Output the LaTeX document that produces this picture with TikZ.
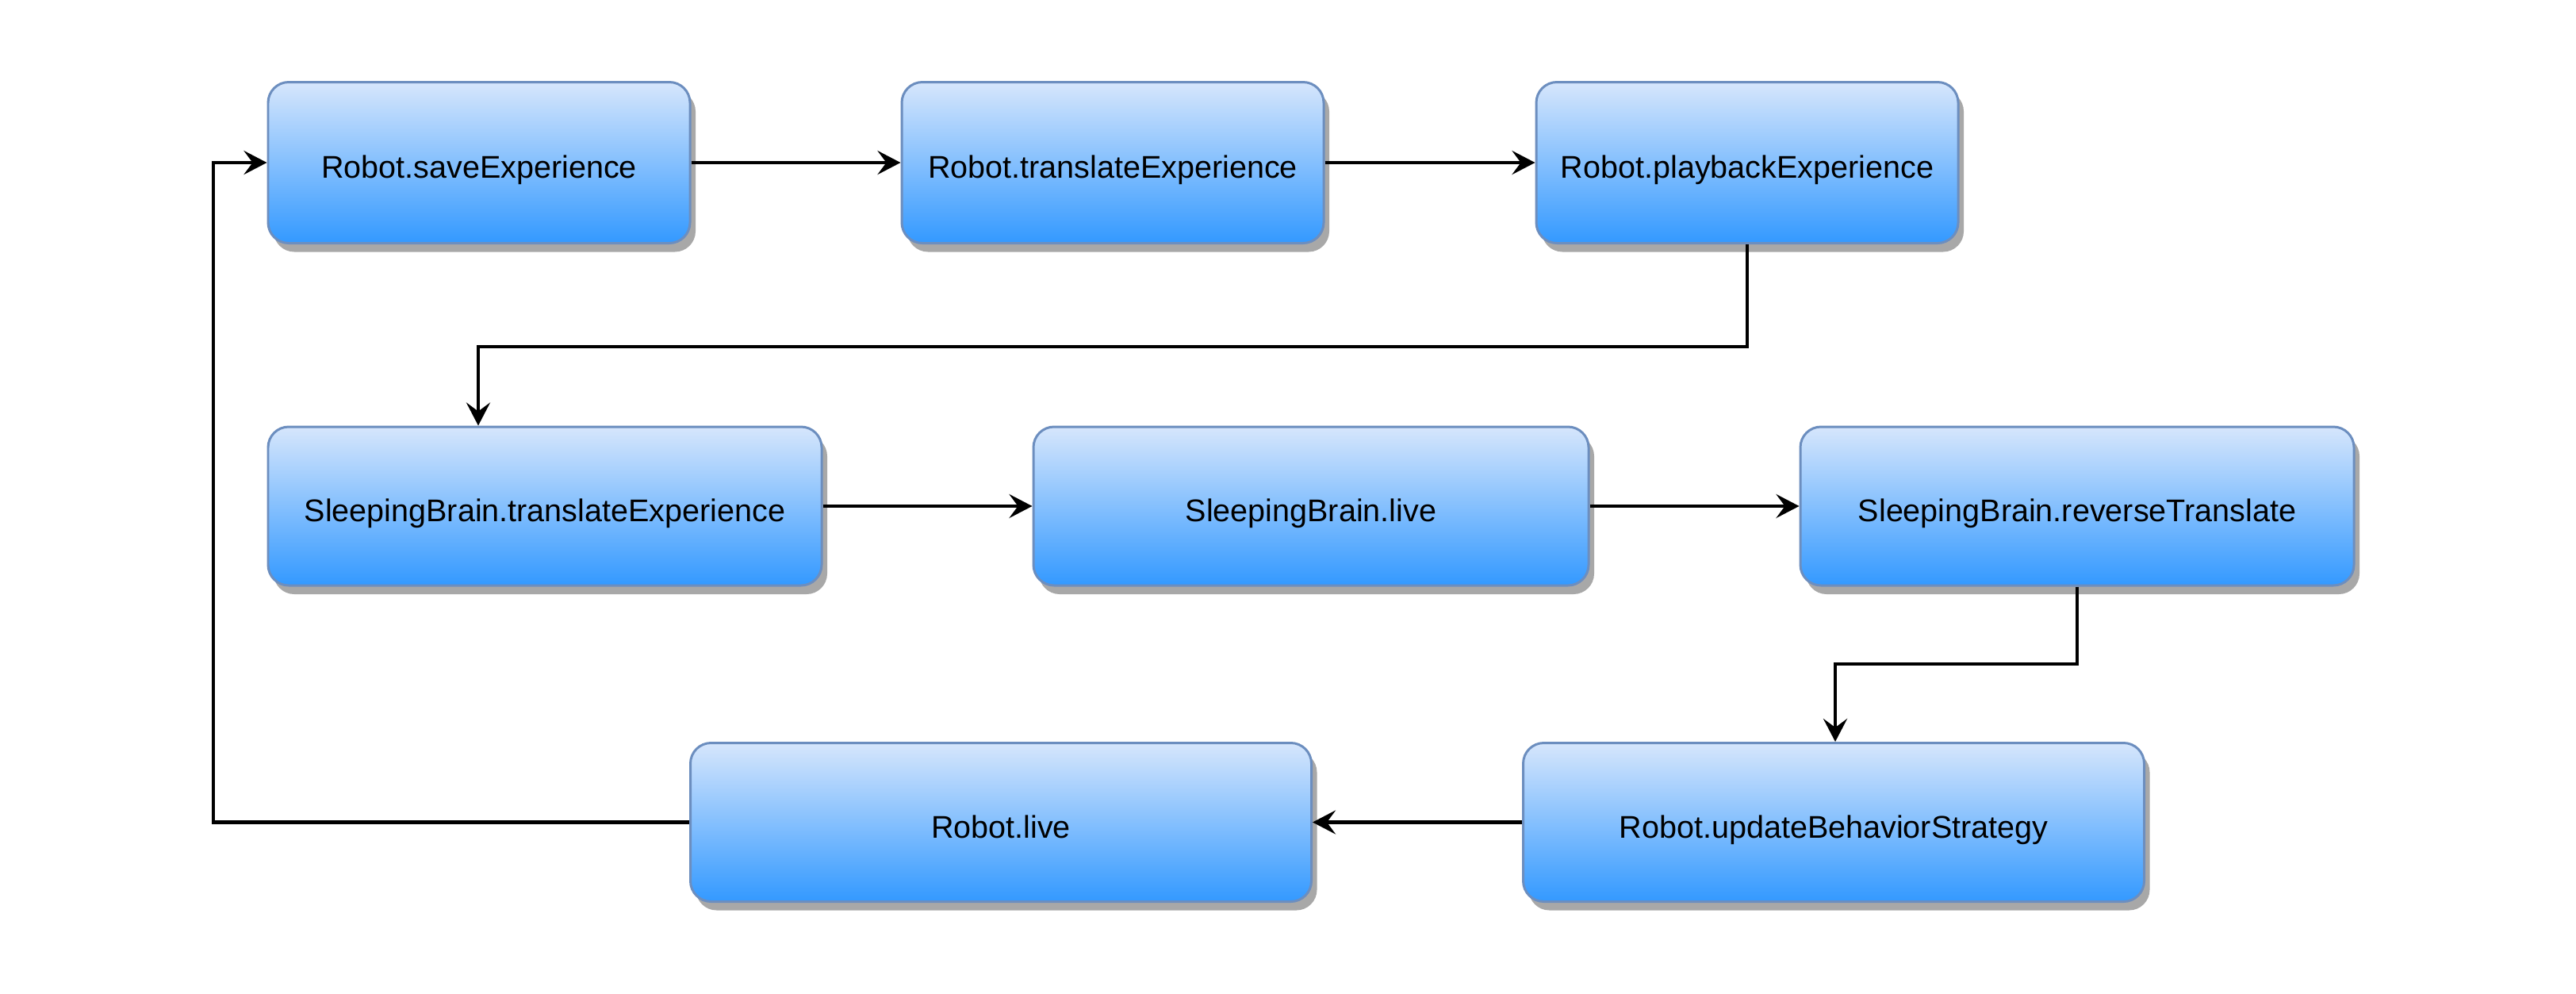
\documentclass[tikz,border=0pt]{standalone}
\usepackage{fontspec}
\setmainfont{Liberation Sans}
\usetikzlibrary{arrows.meta,shadows,calc}
\pgfdeclarelayer{bg}
\pgfsetlayers{bg,main}
\definecolor{boxtop}{HTML}{D6E6FC}
\definecolor{boxbot}{HTML}{3399FF}
\definecolor{boxline}{HTML}{6C8EBF}
\tikzset{
  stepbox/.style={draw=boxline, line width=0.85pt, rounded corners=0.26cm,
    top color=boxtop, bottom color=boxbot, minimum height=2.0cm,
    font=\fontsize{11.25pt}{13pt}\selectfont, text=black,
    text height=13.7pt, text depth=2.5pt,
    drop shadow={shadow xshift=0.07cm, shadow yshift=-0.11cm, fill=black!45, opacity=0.75}},
  arr/.style={draw=black, line width=1.25pt,
    -{Stealth[length=0.29cm, width=0.30cm, inset=0.11cm]}},
  arrshadow/.style={draw=black!5, line width=6pt,
    transform canvas={xshift=0.07cm, yshift=-0.09cm}},
}
\begin{document}
\begin{tikzpicture}
\useasboundingbox[fill=white] (0,0) rectangle (32.48,-12.52);
% row 1
\node[stepbox, minimum width=5.32cm, minimum height=2.03cm] (b1) at (6.04,-2.05) {Robot.saveExperience};
\node[stepbox, minimum width=5.32cm, minimum height=2.03cm] (b2) at (14.03,-2.05) {Robot.translateExperience};
\node[stepbox, minimum width=5.32cm, minimum height=2.03cm] (b3) at (22.03,-2.05) {Robot.playbackExperience};
% row 2
\node[stepbox, minimum width=6.98cm] (b4) at (6.87,-6.38) {SleepingBrain.translateExperience};
\node[stepbox, minimum width=7.00cm] (b5) at (16.53,-6.38) {SleepingBrain.live};
\node[stepbox, minimum width=6.98cm] (b6) at (26.19,-6.38) {SleepingBrain.reverseTranslate};
% row 3
\node[stepbox, minimum width=7.83cm] (b7) at (12.62,-10.365) {Robot.live};
\node[stepbox, minimum width=7.83cm] (b8) at (23.12,-10.365) {Robot.updateBehaviorStrategy};
% junction points
\coordinate (j1) at (6.03,-4.37);
\coordinate (j2) at (23.14,-8.37);
\coordinate (j3) at (2.69,0);
% faint connector shadows
\begin{pgfonlayer}{bg}
\draw[arrshadow] (b1.east) -- (b2.west);
\draw[arrshadow] (b2.east) -- (b3.west);
\draw[arrshadow] (b3.south) |- (j1) -- (j1 |- b4.north);
\draw[arrshadow] (b4.east) -- (b5.west);
\draw[arrshadow] (b5.east) -- (b6.west);
\draw[arrshadow] (b6.south) |- (j2) -- (j2 |- b8.north);
\draw[arrshadow] (b8.west) -- (b7.east);
\draw[arrshadow] (b7.west) -| (j3 |- b1.west) -- (b1.west);
\end{pgfonlayer}
% connectors
\draw[arr] (b1.east) -- (b2.west);
\draw[arr] (b2.east) -- (b3.west);
\draw[arr] (b3.south) |- (j1) -- (j1 |- b4.north);
\draw[arr] (b4.east) -- (b5.west);
\draw[arr] (b5.east) -- (b6.west);
\draw[arr] (b6.south) |- (j2) -- (j2 |- b8.north);
\draw[arr] (b8.west) -- (b7.east);
\draw[arr] (b7.west) -| (j3 |- b1.west) -- (b1.west);
\end{tikzpicture}
\end{document}
